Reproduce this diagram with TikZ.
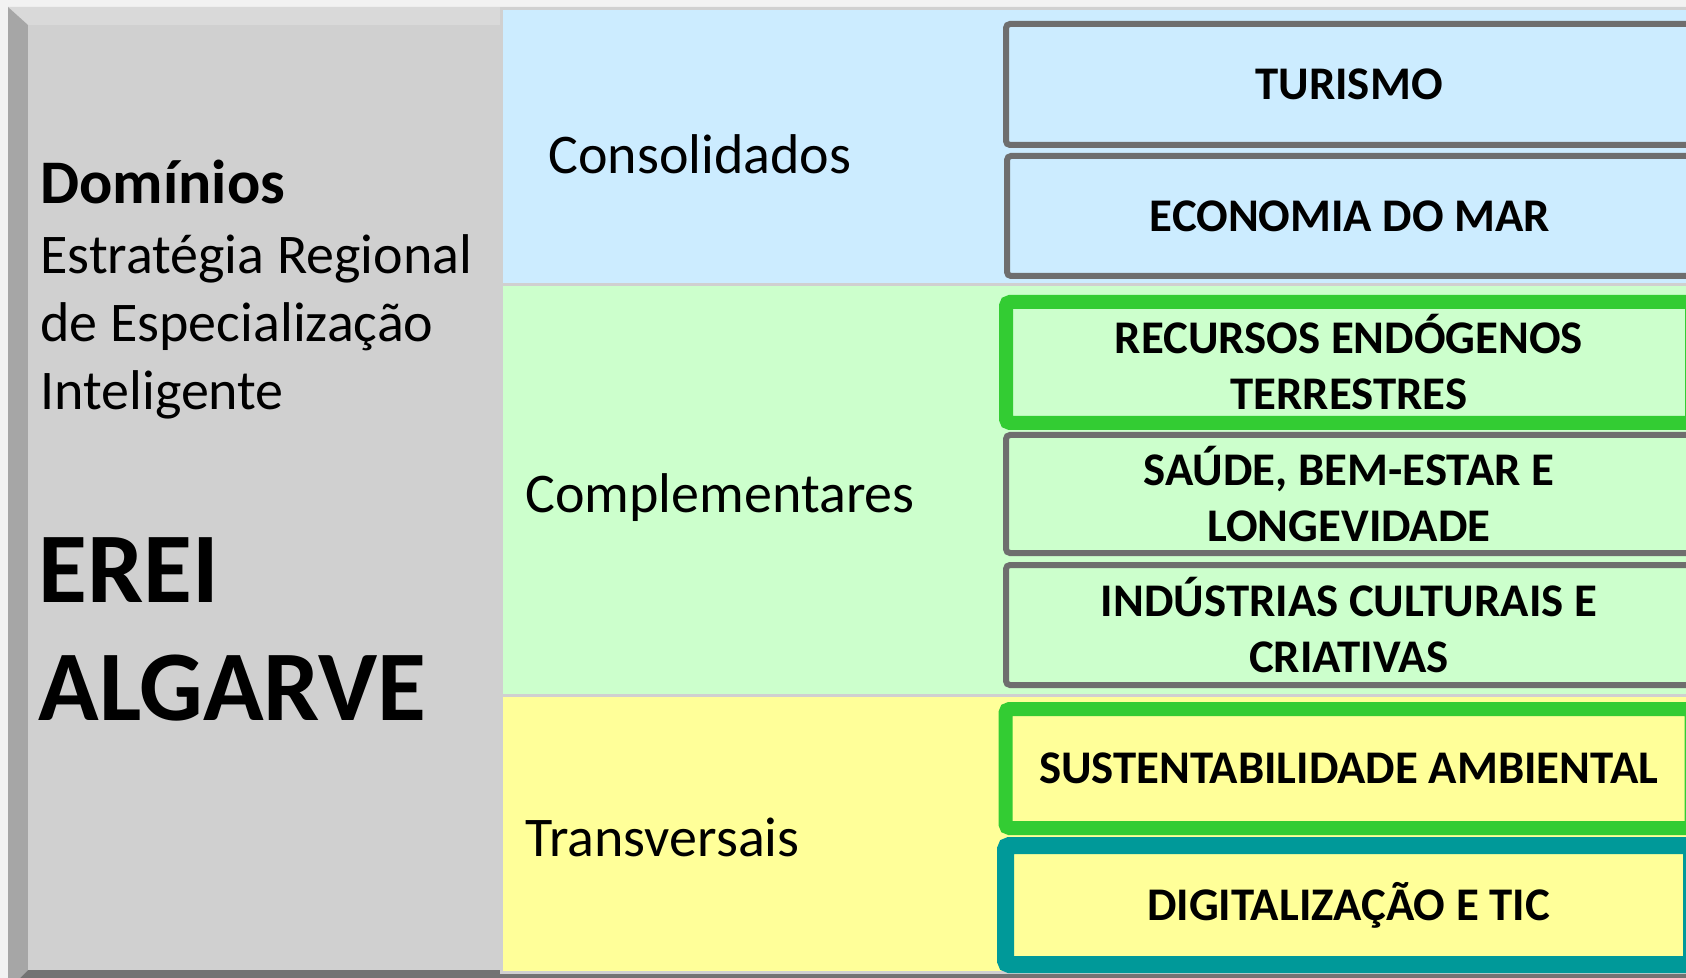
\documentclass[tikz,border=0pt]{standalone}
\usepackage{fontspec}
\setmainfont{Carlito}
\definecolor{pagebg}{HTML}{F2F2F2}
\definecolor{bevtop}{HTML}{D9D9D9}
\definecolor{bevleft}{HTML}{A6A6A6}
\definecolor{bevbot}{HTML}{737373}
\definecolor{facegray}{HTML}{D0D0D0}
\definecolor{consblue}{HTML}{CCECFF}
\definecolor{compgreen}{HTML}{CCFFCC}
\definecolor{transyellow}{HTML}{FFFF99}
\definecolor{boxgray}{HTML}{6E6E6E}
\definecolor{hilgreen}{HTML}{33CC33}
\definecolor{hilteal}{HTML}{009999}

\begin{document}
\begin{tikzpicture}[x=0.5pt,y=-0.5pt,
  band/.style={draw=facegray,line width=1.5pt},
  dombox/.style={rounded corners=2pt,minimum width=343pt,inner sep=0pt,
    align=center,font=\bfseries\fontsize{23.4}{28}\selectfont},
  graybox/.style={dombox,draw=boxgray,line width=3pt},
  greenbox/.style={dombox,draw=hilgreen,line width=7pt},
  tealbox/.style={dombox,draw=hilteal,line width=8.5pt},
  bandlabel/.style={anchor=base west,inner sep=0pt,font=\fontsize{28}{34}\selectfont},
  ]
  \useasboundingbox (0,0) rectangle (1686,978);
  \clip (0,0) rectangle (1686,978);
  \fill[pagebg] (0,0) rectangle (1686,978);

  % bevelled frame
  \fill[bevtop] (8,7) -- (1700,7) -- (1700,25) -- (28,25) -- cycle;
  \fill[bevleft] (8,7) -- (28,25) -- (28,970) -- (8,990) -- cycle;
  \fill[bevbot] (8,990) -- (28,970) -- (1700,970) -- (1700,990) -- cycle;
  \fill[facegray] (28,25) rectangle (501,970);

  % bands
  \filldraw[band,fill=consblue] (501,9) rectangle (1700,285);
  \filldraw[band,fill=compgreen] (501,285) rectangle (1700,695);
  \filldraw[band,fill=transyellow] (501,695) rectangle (1700,972);

  % left panel (base = last line)
  \node[anchor=base west,inner sep=0pt,align=left,font=\fontsize{28}{34}\selectfont]
    (dom) at (40,409) {{\bfseries\fontsize{31}{34}\selectfont Domínios}\\[1pt]
      Estratégia Regional\\de Especialização\\Inteligente};
  \node[anchor=base west,inner sep=0pt,align=left,font=\bfseries\fontsize{50}{59}\selectfont]
    (erei) at (38,720) {EREI\\ALGARVE};

  % band labels
  \node[bandlabel] (cons) at (548,174) {Consolidados};
  \node[bandlabel] (comp) at (525,512) {Complementares};
  \node[bandlabel] (trans) at (525,856) {Transversais};

  % domain boxes
  \node[graybox,minimum height=60.5pt] (tur) at (1349,84.5) {TURISMO};
  \node[graybox,minimum height=60pt] (mar) at (1350,216) {ECONOMIA DO MAR};
  \node[greenbox,minimum height=60.5pt] (rec) at (1349,362.5) {RECURSOS ENDÓGENOS\\TERRESTRES};
  \node[graybox,minimum height=59pt] (sau) at (1349,494) {SAÚDE, BEM-ESTAR E\\LONGEVIDADE};
  \node[graybox,minimum height=60pt] (ind) at (1349,625) {INDÚSTRIAS CULTURAIS E\\CRIATIVAS};
  \node[greenbox,minimum height=59.5pt] (sus) at (1348.5,768.5) {SUSTENTABILIDADE AMBIENTAL};
  \node[tealbox,minimum height=59.5pt] (dig) at (1348.5,905) {DIGITALIZAÇÃO E TIC};
\end{tikzpicture}
\end{document}
